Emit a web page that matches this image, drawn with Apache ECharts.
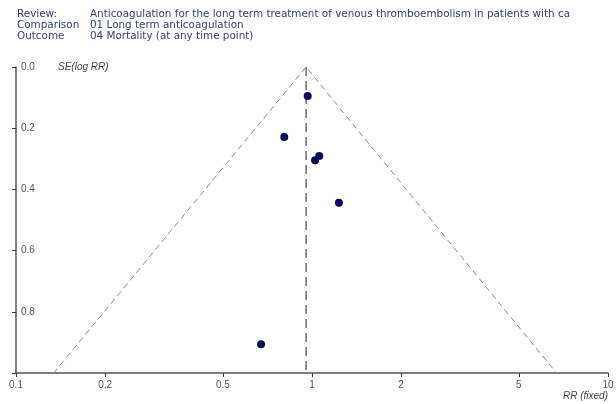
<!DOCTYPE html>
<html>
<head>
<meta charset="utf-8">
<script src="https://cdn.jsdelivr.net/npm/echarts@6/dist/echarts.min.js"></script>
<style>
  html, body { margin: 0; padding: 0; background: #fff; }
  #chart { width: 616px; height: 404px; }
</style>
</head>
<body>
<div id="chart"></div>
<script>
// studies: risk ratio and SE(log RR)
const studyRR = [0.967, 0.806, 1.024, 1.058, 1.233, 0.673];
const studySE = [0.095, 0.229, 0.305, 0.291, 0.444, 0.906];

// pooled estimate (fixed) and funnel limits at SE = 1
const pooledRR = 0.955;
const funnelRR = [0.134, 0.955, 6.7];
const funnelSE = [1, 0, 1];

const xTicks = [0.1, 0.2, 0.5, 1, 2, 5, 10];
const yTicks = [0, 0.2, 0.4, 0.6, 0.8];

const headerLabels = ['Review:', 'Comparison', 'Outcome'];
const headerTexts = [
  'Anticoagulation for the long term treatment of venous thromboembolism in patients with ca',
  '01 Long term anticoagulation',
  '04 Mortality (at any time point)'
];

const font = 'Liberation Sans, Arial, sans-serif';
const headFont = 'DejaVu Sans, sans-serif';
const headColor = '#34406e';

let graphics = [];
headerLabels.forEach((t, i) => {
  graphics.push({ type: 'text', left: 17, top: 9 + i * 11,
    style: { text: t, fontSize: 10.4, fontFamily: headFont, fill: headColor } });
  graphics.push({ type: 'text', left: 90, top: 9 + i * 11,
    style: { text: headerTexts[i], fontSize: 10.4, fontFamily: headFont, fill: headColor } });
});
graphics.push({ type: 'text', left: 58, top: 62,
  style: { text: 'SE(log RR)', fontSize: 10, fontStyle: 'italic', fontFamily: font, fill: '#444' } });
graphics.push({ type: 'text', right: 8, top: 391,
  style: { text: 'RR (fixed)', fontSize: 10, fontStyle: 'italic', fontFamily: font, fill: '#444' } });

let chart = echarts.init(document.getElementById('chart'));

let option = {
  animation: false,
  backgroundColor: '#fff',
  grid: { left: 16, right: 8, top: 67, bottom: 31, containLabel: false, outerBoundsMode: 'none' },
  graphic: graphics,
  xAxis: {
    type: 'log',
    logBase: 10,
    min: 0.1,
    max: 10,
    splitLine: { show: false },
    axisLine: { onZero: false, lineStyle: { color: '#555', width: 1.5 } },
    axisTick: { show: true, length: 4, lineStyle: { color: '#333' }, customValues: xTicks },
    axisLabel: {
      customValues: xTicks,
      margin: 7,
      fontSize: 10,
      fontFamily: font,
      color: '#555',
      formatter: v => String(Math.round(v * 10) / 10)
    }
  },
  yAxis: {
    type: 'value',
    inverse: true,
    min: 0,
    max: 1,
    interval: 0.2,
    splitLine: { show: false },
    axisLine: { show: true, onZero: false, lineStyle: { color: '#555', width: 1.5 } },
    axisTick: { show: true, length: 4, lineStyle: { color: '#333' } },
    axisLabel: {
      inside: true,
      margin: 5,
      fontSize: 10,
      fontFamily: font,
      color: '#555',
      formatter: v => (yTicks.indexOf(Math.round(v * 10) / 10) >= 0 ? v.toFixed(1) : '')
    }
  },
  series: [
    {
      type: 'line',
      data: funnelRR.map((r, i) => [r, funnelSE[i]]),
      symbol: 'none',
      lineStyle: { color: '#8a8a8a', width: 1, type: [6, 4] },
      z: 1
    },
    {
      type: 'line',
      data: [[pooledRR, 0], [pooledRR, 1]],
      symbol: 'none',
      lineStyle: { color: '#222', width: 1, type: [9, 5] },
      z: 2
    },
    {
      type: 'scatter',
      data: studyRR.map((r, i) => [r, studySE[i]]),
      symbol: 'circle',
      symbolSize: 8,
      itemStyle: { color: '#0a0a5e', opacity: 1 },
      z: 3
    }
  ]
};

chart.setOption(option);
</script>
</body>
</html>
